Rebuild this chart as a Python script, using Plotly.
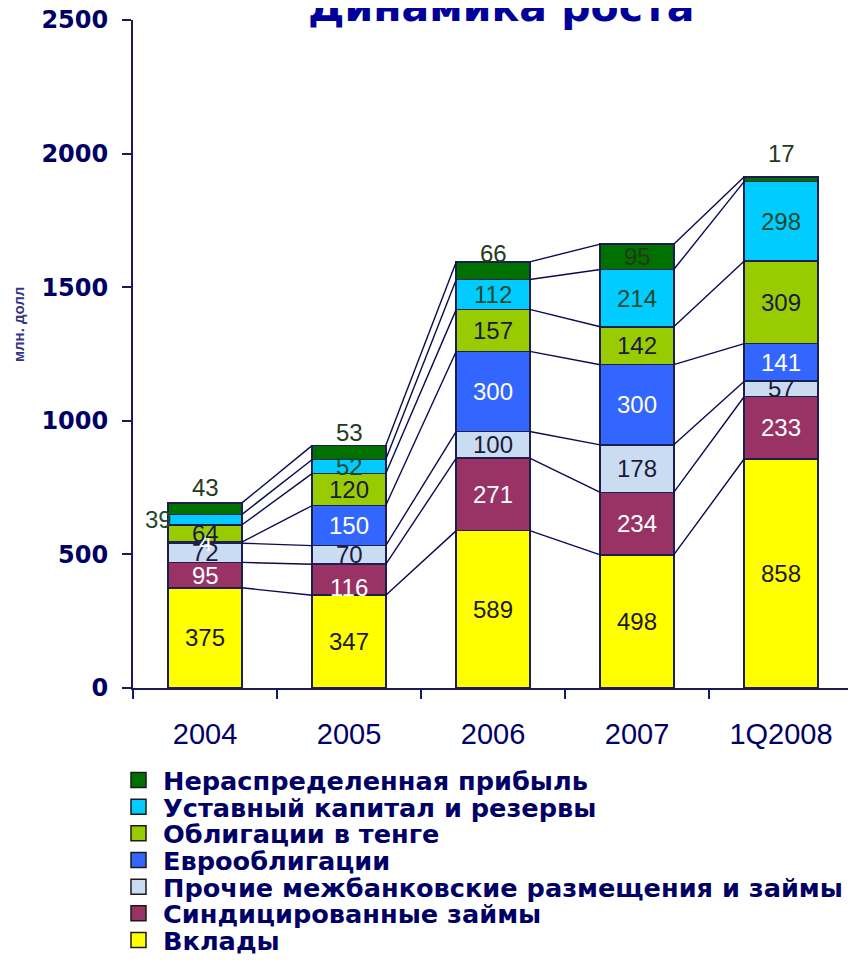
import plotly.graph_objects as go

categories = ["2004", "2005", "2006", "2007", "1Q2008"]
series_names = ["Вклады", "Синдицированные займы",
                "Прочие межбанковские размещения и займы", "Еврооблигации",
                "Облигации в тенге", "Уставный капитал и резервы",
                "Нераспределенная прибыль"]
deposits = [375, 347, 589, 498, 858]
syndicated = [95, 116, 271, 234, 233]
interbank = [72, 70, 100, 178, 57]
eurobonds = [4, 150, 300, 300, 141]
tenge_bonds = [64, 120, 157, 142, 309]
capital = [39, 52, 112, 214, 298]
retained = [43, 53, 66, 95, 17]
y_ticks = [0, 500, 1000, 1500, 2000, 2500]

series = [deposits, syndicated, interbank, eurobonds, tenge_bonds, capital, retained]
colors = ["#FFFF00", "#993366", "#C9DCF2", "#3366FF", "#99CC00", "#00CCFF", "#007000"]
label_colors = ["#1a1a1a", "#FFFFFF", "#1a1a3a", "#FFFFFF", "#1a1a40", "#1d4a2d", "#243a1c"]
# label nudges (pixels) for crowded labels: (series idx, category idx) -> (dx, dy)
nudges = {(6, 0): (0, 21), (6, 1): (0, 20), (6, 2): (0, 17), (6, 4): (0, 26),
          (5, 0): (-47, 0), (1, 1): (0, -8)}

NAVY = "#000066"
OUTLINE = "#1f1f4f"
BW = 0.51
xs = list(range(len(categories)))

# page has an 8px body margin; figure coords = page coords - 8
OFF = 8
FIG_W, FIG_H = 856 - OFF, 967 - 2 * OFF
L, R, T, B = 133 - OFF, 853 - OFF, 20 - OFF, 688 - OFF


def px_x(p):
    return (p - OFF - L) / float(R - L)


def px_y(p):
    return (B - (p - OFF)) / float(B - T)


fig = go.Figure()
for name, vals, col in zip(series_names, series, colors):
    fig.add_trace(go.Bar(x=xs, y=vals, name=name, width=BW, marker_color=col,
                         marker_line=dict(color=OUTLINE, width=1.6),
                         showlegend=False, hoverinfo="y"))

# connecting lines between cumulative boundaries
cum = [0] * len(categories)
cums = []
for vals in series:
    cum = [c + v for c, v in zip(cum, vals)]
    cums.append(cum[:])
for c in cums:
    lx, ly = [], []
    for i in range(len(categories) - 1):
        lx += [i + BW / 2, i + 1 - BW / 2, None]
        ly += [c[i], c[i + 1], None]
    fig.add_trace(go.Scatter(x=lx, y=ly, mode="lines",
                             line=dict(color="#0a0a50", width=1.4),
                             showlegend=False, hoverinfo="skip"))

annotations = []
base = [0] * len(categories)
for si, vals in enumerate(series):
    for ci, v in enumerate(vals):
        dx, dy = nudges.get((si, ci), (0, 0))
        annotations.append(dict(x=ci, y=base[ci] + v / 2, xref="x", yref="y",
                                text=str(v), showarrow=False, xshift=dx, yshift=dy,
                                font=dict(family="Liberation Sans, Arial", size=24,
                                          color=label_colors[si])))
    base = [b + v for b, v in zip(base, vals)]

# title
annotations.append(dict(x=px_x(502), y=px_y(7), xref="paper", yref="paper",
                        text="Динамика роста", showarrow=False, xanchor="center",
                        yanchor="middle",
                        font=dict(family="DejaVu Sans", size=41, color="#00009A",
                                  weight="bold")))
# y-axis title
annotations.append(dict(x=px_x(18), y=px_y(325), xref="paper", yref="paper",
                        text="<b>млн. долл</b>", showarrow=False, textangle=-90,
                        xanchor="center", yanchor="middle",
                        font=dict(family="Liberation Sans, Arial", size=15, color="#333388")))

shapes = []
legend_order = list(range(len(series_names)))[::-1]
for k, si in enumerate(legend_order):
    cy = 780 + 26.67 * k
    shapes.append(dict(type="rect", xref="paper", yref="paper",
                       x0=px_x(131), x1=px_x(146), y0=px_y(cy + 7.5), y1=px_y(cy - 7.5),
                       fillcolor=colors[si], line=dict(color="#1a1a1a", width=1.5)))
    annotations.append(dict(x=px_x(161), y=px_y(cy + 1), xref="paper", yref="paper",
                            text=series_names[si], showarrow=False, xanchor="left",
                            yanchor="middle",
                            font=dict(family="DejaVu Sans", size=25.6, color=NAVY,
                                      weight="bold")))

fig.update_layout(
    barmode="stack",
    width=FIG_W, height=FIG_H,
    margin=dict(l=L, r=FIG_W - R, t=T, b=FIG_H - B, autoexpand=False),
    plot_bgcolor="white", paper_bgcolor="white",
    annotations=annotations, shapes=shapes,
    showlegend=False,
    xaxis=dict(range=[-0.5, 4.5], tickmode="array", tickvals=xs, ticktext=categories,
               ticks="", showgrid=False, zeroline=False, showline=True,
               linecolor="#1a1a5a", linewidth=2, ticklabelstandoff=19,
               tickfont=dict(family="Liberation Sans, Arial", size=29, color=NAVY),
               minor=dict(tickmode="array", tickvals=[-0.5, 0.5, 1.5, 2.5, 3.5, 4.5],
                          ticks="outside", ticklen=9, tickcolor="#1a1a5a", tickwidth=2,
                          showgrid=False)),
    yaxis=dict(range=[0, 2500], tickmode="array", tickvals=y_ticks,
               ticks="outside", ticklen=9, tickcolor="#1a1a5a", tickwidth=2,
               showgrid=False, zeroline=False, showline=True,
               linecolor="#1a1a5a", linewidth=2, ticklabelstandoff=9,
               ticklabeloverflow="allow",
               tickfont=dict(family="DejaVu Sans", size=24, color=NAVY, weight="bold")),
)

fig.write_html("out.html")
